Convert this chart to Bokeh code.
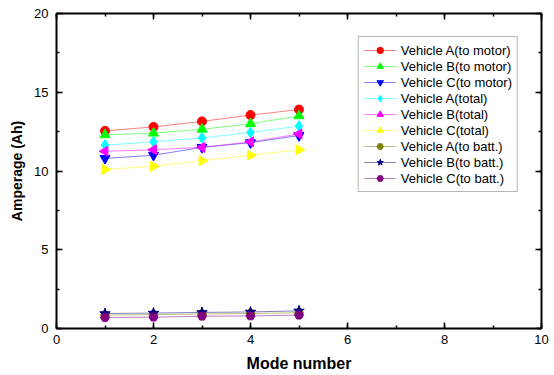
import math
from bokeh.plotting import figure
from bokeh.models import Range1d, LinearAxis, SingleIntervalTicker, Legend
from bokeh.embed import file_html
from bokeh.resources import INLINE

# ---- data ----
modes = [1, 2, 3, 4, 5]
veh_a_motor = [12.55, 12.8, 13.15, 13.55, 13.9]
veh_b_motor = [12.3, 12.4, 12.65, 13.0, 13.5]
veh_c_motor = [10.8, 11.0, 11.5, 11.8, 12.25]
veh_a_total = [11.65, 11.85, 12.1, 12.45, 12.85]
veh_b_total = [11.25, 11.35, 11.5, 11.85, 12.35]
veh_c_total = [10.1, 10.3, 10.65, 11.0, 11.35]
veh_a_batt = [0.85, 0.88, 0.92, 0.95, 1.0]
veh_b_batt = [0.95, 0.98, 1.02, 1.05, 1.12]
veh_c_batt = [0.7, 0.72, 0.78, 0.8, 0.85]

x_ticks = [0, 2, 4, 6, 8, 10]
y_ticks = [0, 5, 10, 15, 20]

series_names = ["Vehicle A(to motor)", "Vehicle B(to motor)", "Vehicle C(to motor)",
                "Vehicle A(total)", "Vehicle B(total)", "Vehicle C(total)",
                "Vehicle A(to batt.)", "Vehicle B(to batt.)", "Vehicle C(to batt.)"]
series_values = [veh_a_motor, veh_b_motor, veh_c_motor,
                 veh_a_total, veh_b_total, veh_c_total,
                 veh_a_batt, veh_b_batt, veh_c_batt]

colors = ["#ff0000", "#00ff00", "#0000ff", "#00ffff", "#ff00ff", "#ffff00",
          "#808000", "#000080", "#800080"]
markers = ["circle", "triangle", "inverted_triangle", "diamond", "triangle", "triangle",
           "hex", "star", "hex"]
angles = [0, 0, 0, 0, 90, -90, 0, 0, 0]
sizes = [9, 10, 10, 11, 10, 10, 9, 11, 9]

FONT = "Liberation Sans"

p = figure(width=554, height=375, output_backend="svg", toolbar_location=None,
           x_range=Range1d(0, 10), y_range=Range1d(0, 20),
           min_border_left=56, min_border_right=13, min_border_top=13, min_border_bottom=47,
           x_axis_location=None, y_axis_location=None)
p.grid.visible = False
p.outline_line_color = None
p.background_fill_color = "white"
p.border_fill_color = "white"


def style_axis(ax, ticks, show_labels):
    ax.axis_line_width = 2
    ax.axis_line_color = "black"
    ax.major_tick_in = 6
    ax.major_tick_out = 0
    ax.minor_tick_in = 3
    ax.minor_tick_out = 0
    ax.major_tick_line_width = 1.5
    ax.minor_tick_line_width = 1.5
    ax.major_tick_line_color = "black"
    ax.minor_tick_line_color = "black"
    ax.major_label_text_font = FONT
    ax.major_label_text_font_size = "13px"
    ax.major_label_text_color = "black"
    ax.axis_label_text_color = "black"
    if not show_labels:
        ax.major_label_overrides = {t: "" for t in ticks}
        ax.major_label_standoff = 0


xb = LinearAxis(ticker=SingleIntervalTicker(interval=2, num_minor_ticks=2))
style_axis(xb, x_ticks, True)
xb.major_label_standoff = 6
xb.axis_label = "Mode number"
xb.axis_label_text_font = FONT
xb.axis_label_text_font_style = "bold"
xb.axis_label_text_font_size = "16px"
xb.axis_label_standoff = 8
p.add_layout(xb, "below")

yl = LinearAxis(ticker=SingleIntervalTicker(interval=5, num_minor_ticks=2))
style_axis(yl, y_ticks, True)
yl.major_label_standoff = 8
yl.axis_label = "Amperage (Ah)"
yl.axis_label_text_font = FONT
yl.axis_label_text_font_style = "bold"
yl.axis_label_text_font_size = "14px"
yl.axis_label_standoff = 6
p.add_layout(yl, "left")

xt = LinearAxis(ticker=SingleIntervalTicker(interval=2, num_minor_ticks=2))
style_axis(xt, x_ticks, False)
p.add_layout(xt, "above")

yr = LinearAxis(ticker=SingleIntervalTicker(interval=5, num_minor_ticks=2))
style_axis(yr, y_ticks, False)
p.add_layout(yr, "right")

items = []
for name, vals, c, m, a, s in zip(series_names, series_values, colors, markers, angles, sizes):
    r1 = p.line(modes, vals, line_color=c, line_alpha=0.5, line_width=1)
    r2 = p.scatter(modes, vals, marker=m, size=s, angle=a, angle_units="deg",
                   fill_color=c, line_color=c)
    items.append((name, [r1, r2]))

legend = Legend(items=items, location="top_right", margin=23, padding=5, spacing=0,
                glyph_width=32, glyph_height=16, label_height=16, label_standoff=5,
                label_text_font=FONT, label_text_font_size="13px", label_text_color="black",
                border_line_color="#707070", border_line_width=1,
                background_fill_color="white", background_fill_alpha=1)
p.add_layout(legend, "center")

open("out.html", "w").write(file_html(p, INLINE))
